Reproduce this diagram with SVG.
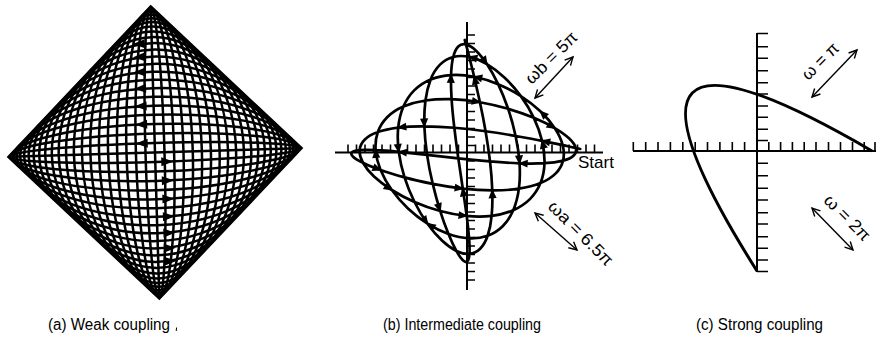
<svg xmlns="http://www.w3.org/2000/svg" width="876" height="342" viewBox="0 0 876 342">
<style>
.ln{fill:none;stroke:#000;stroke-width:2.5}
.ax{fill:none;stroke:#000;stroke-width:2}
.tk{fill:none;stroke:#000;stroke-width:1.6}
.cv{fill:none;stroke:#000;stroke-width:2.7;stroke-linejoin:round;stroke-linecap:round}
.ar{fill:#000;stroke:none}
.dbl{fill:none;stroke:#000;stroke-width:1.4;marker-start:url(#oh);marker-end:url(#oh)}
.lbl{font-family:"Liberation Sans",Arial,sans-serif;font-size:17px;fill:#000}
.cap{font-family:"Liberation Sans",Arial,sans-serif;font-size:16px;fill:#000}
</style>
<defs>
<marker id="oh" markerUnits="userSpaceOnUse" markerWidth="20" markerHeight="20" orient="auto-start-reverse" overflow="visible" refX="0" refY="0">
<path d="M-8,-4 L0,0 L-8,4" fill="none" stroke="#000" stroke-width="1.4"/>
</marker>
<marker id="ah" markerUnits="userSpaceOnUse" markerWidth="20" markerHeight="20" orient="auto" overflow="visible" refX="0" refY="0">
<path d="M2,0 L-10,-5 L-10,5 z" fill="#000"/>
</marker>
</defs>

<g id="panel-a" transform="translate(155,152.5) rotate(-1.7)">
<g class="ln">
<line x1="-146" y1="0" x2="146" y2="0"/>
<line x1="0" y1="-145.5" x2="0" y2="145.5"/>
<ellipse rx="145.7" ry="9.5"/>
<ellipse rx="144.75" ry="19"/>
<ellipse rx="143.2" ry="28.4"/>
<ellipse rx="141" ry="37.7"/>
<ellipse rx="138.25" ry="46.8"/>
<ellipse rx="134.9" ry="55.7"/>
<ellipse rx="130.9" ry="64.4"/>
<ellipse rx="126.4" ry="72.75"/>
<ellipse rx="121.4" ry="80.8"/>
<ellipse rx="115.8" ry="88.6"/>
<ellipse rx="109.8" ry="95.9"/>
<ellipse rx="103.2" ry="102.9"/>
<ellipse rx="96.3" ry="109.4"/>
<ellipse rx="88.9" ry="115.4"/>
<ellipse rx="81.1" ry="121"/>
<ellipse rx="73" ry="126"/>
<ellipse rx="64.6" ry="130.5"/>
<ellipse rx="55.9" ry="134.4"/>
<ellipse rx="46.9" ry="137.8"/>
<ellipse rx="37.8" ry="140.5"/>
<ellipse rx="28.5" ry="142.7"/>
<ellipse rx="19.1" ry="144.25"/>
<ellipse rx="9.5" ry="145.2"/>
</g>
<polygon points="0,-145.5 146,0 0,145.5 -146,0" fill="none" stroke="#000" stroke-width="3.4"/>
<g class="ar">
<path d="M-19,-9.5 L-7,-14 L-7,-5 z"/>
<path d="M-19,-28.4 L-7,-32.9 L-7,-23.9 z"/>
<path d="M-19,-46.8 L-7,-51.3 L-7,-42.3 z"/>
<path d="M-19,-64.4 L-7,-68.9 L-7,-59.9 z"/>
<path d="M-19,-80.8 L-7,-85.3 L-7,-76.3 z"/>
<path d="M-19,-95.9 L-7,-100.4 L-7,-91.4 z"/>
<path d="M-19,-109 L-7,-113.5 L-7,-104.5 z"/>
<path d="M18,9.5 L6,5 L6,14 z"/>
<path d="M18,28.4 L6,23.9 L6,32.9 z"/>
<path d="M18,46.8 L6,42.3 L6,51.3 z"/>
<path d="M18,64.4 L6,59.9 L6,68.9 z"/>
<path d="M18,80.8 L6,76.3 L6,85.3 z"/>
<path d="M18,95.9 L6,91.4 L6,100.4 z"/>
<path d="M18,109 L6,104.5 L6,113.5 z"/>
</g>
</g>

<g id="panel-b">
<g id="b-axes">
<line class="ax" x1="335" y1="152.5" x2="603" y2="152.5"/>
<line class="ax" x1="467" y1="22" x2="467" y2="290"/>
<path class="tk" d="M348,152.5v-8 M356.5,152.5v-8 M365,152.5v-8 M373.5,152.5v-8 M382,152.5v-8 M390.5,152.5v-8 M399,152.5v-8 M407.5,152.5v-8 M416,152.5v-8 M424.5,152.5v-8 M433,152.5v-8 M441.5,152.5v-8 M450,152.5v-8 M458.5,152.5v-8 M475.5,152.5v-8 M484,152.5v-8 M492.5,152.5v-8 M501,152.5v-8 M509.5,152.5v-8 M518,152.5v-8 M526.5,152.5v-8 M535,152.5v-8 M543.5,152.5v-8 M552,152.5v-8 M560.5,152.5v-8 M569,152.5v-8 M577.5,152.5v-8 M586,152.5v-8 M594.5,152.5v-8"/>
<path class="tk" d="M467,35h8 M467,43.5h8 M467,52h8 M467,60.5h8 M467,69h8 M467,77.5h8 M467,86h8 M467,94.5h8 M467,103h8 M467,111.5h8 M467,120h8 M467,128.5h8 M467,137h8 M467,145.5h8 M467,161h8 M467,169.5h8 M467,178h8 M467,186.5h8 M467,195h8 M467,203.5h8 M467,212h8 M467,220.5h8 M467,229h8 M467,237.5h8 M467,246h8 M467,254.5h8 M467,263h8 M467,271.5h8 M467,280h8"/>
</g>
<g id="b-curve" transform="matrix(0.5775 0.545 0.5725 -0.57 465.25 151.5)">
<path class="cv" vector-effect="non-scaling-stroke" d="M 100 100 S 98.4 99 95.1 97.1 S 87.1 92.3 80.9 88.6 S 67.3 80.2 58.8 74.9 S 40.9 63.4 30.9 56.8 S 10.5 43 0 35.5 S -20.9 20.1 -30.9 12.1 S -50.3 -4.1 -58.8 -12.1 S -74.8 -27.9 -80.9 -35.5 S -91.9 -50.2 -95.1 -56.8 S -100 -69.5 -100 -74.9 S -98.4 -84.8 -95.1 -88.6 S -87.1 -95.2 -80.9 -97.1 S -67.3 -100 -58.8 -100 S -40.9 -99 -30.9 -97.1 S -10.5 -92.3 0 -88.6 S 20.9 -80.2 30.9 -74.9 S 50.3 -63.4 58.8 -56.8 S 74.8 -43 80.9 -35.5 S 91.9 -20.1 95.1 -12.1 S 100 4.1 100 12.1 S 98.4 27.9 95.1 35.5 S 87.1 50.2 80.9 56.8 S 67.3 69.5 58.8 74.9 S 40.9 84.8 30.9 88.6 S 10.5 95.2 0 97.1 S -20.9 100 -30.9 100 S -50.3 99 -58.8 97.1 S -74.8 92.3 -80.9 88.6 S -91.9 80.2 -95.1 74.9 S -100 63.4 -100 56.8 S -98.4 43 -95.1 35.5 S -87.1 20.1 -80.9 12.1 S -67.3 -4.1 -58.8 -12.1 S -40.9 -27.9 -30.9 -35.5 S -10.5 -50.2 0 -56.8 S 20.9 -69.5 30.9 -74.9 S 50.3 -84.8 58.8 -88.6 S 74.8 -95.2 80.9 -97.1 S 91.9 -100 95.1 -100 S 100 -99 100 -97.1 S 98.4 -92.3 95.1 -88.6 S 87.1 -80.2 80.9 -74.9 S 67.3 -63.4 58.8 -56.8 S 40.9 -43 30.9 -35.5 S 10.5 -20.1 0 -12.1 S -20.9 4.1 -30.9 12.1 S -50.3 27.9 -58.8 35.5 S -74.8 50.2 -80.9 56.8 S -91.9 69.5 -95.1 74.9 S -100 84.8 -100 88.6 S -98.4 95.2 -95.1 97.1 S -87.1 100 -80.9 100 S -67.3 99 -58.8 97.1 S -40.9 92.3 -30.9 88.6 S -10.5 80.2 0 74.9 S 20.9 63.4 30.9 56.8 S 50.3 43 58.8 35.5 S 74.8 20.1 80.9 12.1 S 91.9 -4.1 95.1 -12.1 S 100 -27.9 100 -35.5 S 98.4 -50.2 95.1 -56.8 S 87.1 -69.5 80.9 -74.9 S 67.3 -84.8 58.8 -88.6 S 40.9 -95.2 30.9 -97.1 S 10.5 -100 0 -100 S -20.9 -99 -30.9 -97.1 S -50.3 -92.3 -58.8 -88.6 S -74.8 -80.2 -80.9 -74.9 S -91.9 -63.4 -95.1 -56.8 S -100 -43 -100 -35.5 S -98.4 -20.1 -95.1 -12.1 S -87.1 4.1 -80.9 12.1 S -67.3 27.9 -58.8 35.5 S -40.9 50.2 -30.9 56.8 S -10.5 69.5 0 74.9 S 20.9 84.8 30.9 88.6 S 50.3 95.2 58.8 97.1 S 74.8 100 80.9 100 S 91.9 99 95.1 97.1 S 100 92.3 100 88.6 S 98.4 80.2 95.1 74.9 S 87.1 63.4 80.9 56.8 S 67.3 43 58.8 35.5 S 40.9 20.1 30.9 12.1 S 10.5 -4.1 0 -12.1 S -20.9 -27.9 -30.9 -35.5 S -50.3 -50.2 -58.8 -56.8 S -74.8 -69.5 -80.9 -74.9 S -91.9 -84.8 -95.1 -88.6 S -100 -95.2 -100 -97.1 S -98.4 -100 -95.1 -100 S -87.1 -99 -80.9 -97.1 S -67.3 -92.3 -58.8 -88.6 S -40.9 -80.2 -30.9 -74.9 S -10.5 -63.4 0 -56.8 S 20.9 -43 30.9 -35.5 S 50.3 -20.1 58.8 -12.1 S 74.8 4.1 80.9 12.1 S 91.9 27.9 95.1 35.5 S 100 50.2 100 56.8 S 98.4 69.5 95.1 74.9 S 87.1 84.8 80.9 88.6 S 67.3 95.2 58.8 97.1 S 40.9 100 30.9 100 S 10.5 99 0 97.1 S -20.9 92.3 -30.9 88.6 S -50.3 80.2 -58.8 74.9 S -74.8 63.4 -80.9 56.8 S -91.9 43 -95.1 35.5 S -100 20.1 -100 12.1 S -98.4 -4.1 -95.1 -12.1 S -87.1 -27.9 -80.9 -35.5 S -67.3 -50.2 -58.8 -56.8 S -40.9 -69.5 -30.9 -74.9 S -10.5 -84.8 0 -88.6 S 20.9 -95.2 30.9 -97.1 S 50.3 -100 58.8 -100 S 74.8 -99 80.9 -97.1 S 91.9 -92.3 95.1 -88.6 S 100 -80.2 100 -74.9 S 98.4 -63.4 95.1 -56.8 S 87.1 -43 80.9 -35.5 S 67.3 -20.1 58.8 -12.1 S 40.9 4.1 30.9 12.1 S 10.5 27.9 0 35.5 S -20.9 50.2 -30.9 56.8 S -50.3 69.5 -58.8 74.9 S -74.8 84.8 -80.9 88.6 S -91.9 95.2 -95.1 97.1 S -100 100 -100 100"/>
<g fill="none" stroke="none" marker-end="url(#ah)">
<path d="M 67.3 80.2 L 58.8 74.9"/>
<path d="M -74.8 -27.9 L -80.9 -35.5"/>
<path d="M -40.9 -99 L -30.9 -97.1"/>
<path d="M 50.3 -63.4 L 58.8 -56.8"/>
<path d="M 67.3 69.5 L 58.8 74.9"/>
<path d="M -74.8 92.3 L -80.9 88.6"/>
<path d="M -67.3 -4.1 L -58.8 -12.1"/>
<path d="M 20.9 -69.5 L 30.9 -74.9"/>
<path d="M 40.9 -43 L 30.9 -35.5"/>
<path d="M -74.8 50.2 L -80.9 56.8"/>
<path d="M -67.3 99 L -58.8 97.1"/>
<path d="M 50.3 43 L 58.8 35.5"/>
<path d="M 40.9 -95.2 L 30.9 -97.1"/>
<path d="M -74.8 -80.2 L -80.9 -74.9"/>
<path d="M -40.9 50.2 L -30.9 56.8"/>
<path d="M 50.3 95.2 L 58.8 97.1"/>
<path d="M 67.3 43 L 58.8 35.5"/>
<path d="M -50.3 -50.2 L -58.8 -56.8"/>
<path d="M -67.3 -92.3 L -58.8 -88.6"/>
<path d="M 20.9 -43 L 30.9 -35.5"/>
<path d="M 40.9 100 L 30.9 100"/>
<path d="M -50.3 80.2 L -58.8 74.9"/>
<path d="M -67.3 -50.2 L -58.8 -56.8"/>
<path d="M 20.9 -95.2 L 30.9 -97.1"/>
<path d="M 67.3 -20.1 L 58.8 -12.1"/>
<path d="M -50.3 69.5 L -58.8 74.9"/>
</g>
</g>
<text class="lbl" x="578" y="168" font-size="16">Start</text>
<g id="b-modes">
<line class="dbl" x1="535" y1="98" x2="573" y2="57"/>
<line class="dbl" x1="535" y1="213" x2="577" y2="250"/>
<text class="lbl" transform="translate(551,57.5) rotate(-45)" text-anchor="middle" dy="0.35em" textLength="66" lengthAdjust="spacingAndGlyphs">ωb = 5π</text>
<text class="lbl" transform="translate(581,233) rotate(45)" text-anchor="middle" dy="0.35em" textLength="84" lengthAdjust="spacingAndGlyphs">ωa = 6.5π</text>
</g>
</g>

<g id="panel-c">
<g id="c-axes">
<line class="ax" x1="633" y1="151" x2="876" y2="151"/>
<line class="ax" x1="757" y1="33" x2="757" y2="272"/>
<path class="tk" d="M633.3,151v-9 M645.7,151v-9 M658,151v-9 M670.4,151v-9 M682.8,151v-9 M695.2,151v-9 M707.5,151v-9 M719.9,151v-9 M732.3,151v-9 M744.6,151v-9 M768.8,151v-9 M780.6,151v-9 M792.4,151v-9 M804.2,151v-9 M816,151v-9 M828.5,151v-9 M840.5,151v-9 M852.5,151v-9 M864.2,151v-9 M875,151v-9"/>
<path class="tk" d="M757,33.5h11 M757,46.7h11 M757,58.3h11 M757,70.7h11 M757,82.7h11 M757,94h11 M757,106h11 M757,117.3h11 M757,129.3h11 M757,140.5h11 M757,163.3h11 M757,175.7h11 M757,188.3h11 M757,200h11 M757,212.7h11 M757,224h11 M757,236.7h11 M757,248.3h11 M757,260h11 M757,271.5h11"/>
</g>
<path id="c-curve" d="M 872 151 Q 570 -25 757 271" fill="none" stroke="#000" stroke-width="3"/>
<g id="c-modes">
<line class="dbl" x1="812" y1="97" x2="857" y2="50"/>
<line class="dbl" x1="812" y1="208" x2="853" y2="250"/>
<text class="lbl" transform="translate(820,61) rotate(-45)" text-anchor="middle" dy="0.35em" textLength="45" lengthAdjust="spacingAndGlyphs">ω = π</text>
<text class="lbl" transform="translate(847.5,217.5) rotate(45)" text-anchor="middle" dy="0.35em" textLength="58" lengthAdjust="spacingAndGlyphs">ω = 2π</text>
</g>
</g>

<g id="captions">
<text class="cap" x="48" y="330" textLength="122" lengthAdjust="spacingAndGlyphs">(a) Weak coupling</text>
<path d="M176.6,327.5 L176.2,331" stroke="#000" stroke-width="1" fill="none"/>
<text class="cap" x="383" y="330" textLength="158" lengthAdjust="spacingAndGlyphs">(b) Intermediate coupling</text>
<text class="cap" x="696" y="330" textLength="127" lengthAdjust="spacingAndGlyphs">(c) Strong coupling</text>
</g>
</svg>
